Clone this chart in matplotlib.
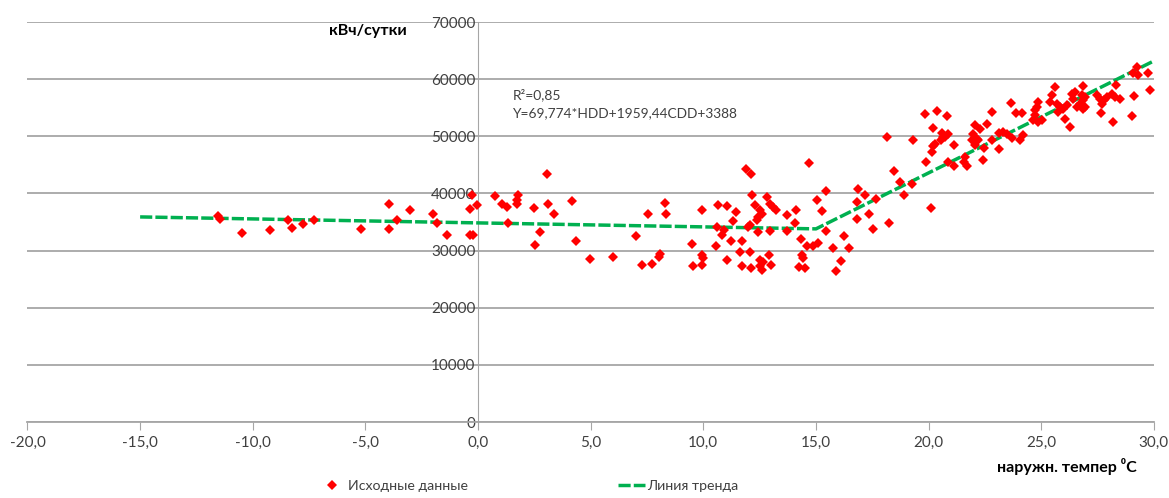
import matplotlib.pyplot as plt
from matplotlib.lines import Line2D
from matplotlib.ticker import FuncFormatter, MultipleLocator

# outside temperature, degC
temp_obs = [
    -11.53, -11.45, -10.49, -9.24, -8.42, -8.27, -7.76, -7.28, -5.21, -3.95,
    -3.95, -3.61, -3.02, -2.02, -1.84, -1.39, -0.36, -0.24, -0.28, -0.36,
    -0.06, 0.75, 1.05, 1.30, 1.34, 1.71, 1.74, 1.78, 2.48, 2.53,
    2.75, 3.07, 3.12, 3.37, 4.15, 4.34, 4.97, 6.00, 7.00, 7.26,
    7.56, 7.73, 8.03, 8.07, 8.30, 8.33, 9.48, 9.55, 9.92, 9.92,
    9.97, 9.92, 10.58, 10.62, 10.66, 10.81, 10.93, 11.03, 11.03, 11.22,
    11.33, 11.45, 11.62, 11.70, 11.73, 11.88, 12.00, 12.07, 12.07, 12.10,
    12.11, 12.14, 12.29, 12.37, 12.41, 12.44, 12.51, 12.51, 12.51, 12.59,
    12.59, 12.66, 12.81, 12.93, 12.96, 12.96, 12.99, 13.10, 13.22, 13.70,
    13.72, 14.07, 14.11, 14.26, 14.32, 14.36, 14.43, 14.51, 14.58, 14.70,
    14.88, 15.03, 15.10, 15.25, 15.43, 15.43, 15.74, 15.89, 16.10, 16.24,
    16.48, 16.81, 16.81, 16.86, 17.19, 17.36, 17.53, 17.66, 18.14, 18.25,
    18.46, 18.73, 18.92, 19.28, 19.29, 19.84, 19.88, 20.11, 20.13, 20.18,
    20.20, 20.28, 20.36, 20.54, 20.58, 20.62, 20.73, 20.80, 20.84, 20.88,
    21.12, 21.14, 21.58, 21.61, 21.69, 21.91, 21.98, 22.06, 22.06, 22.13,
    22.20, 22.28, 22.40, 22.45, 22.60, 22.80, 22.80, 23.13, 23.13, 23.31,
    23.49, 23.64, 23.68, 23.87, 24.05, 24.13, 24.20, 24.64, 24.72, 24.72,
    24.79, 24.87, 24.87, 25.02, 25.38, 25.46, 25.60, 25.68, 25.75, 25.83,
    25.97, 26.05, 26.12, 26.27, 26.35, 26.42, 26.49, 26.57, 26.71, 26.79,
    26.83, 26.86, 26.86, 26.94, 26.94, 27.46, 27.60, 27.64, 27.68, 27.78,
    27.90, 28.12, 28.19, 28.27, 28.31, 28.49, 29.01, 29.08, 29.11, 29.23,
    29.30, 29.74, 29.82,
]
# daily consumption, kWh
load_obs = [
    36010, 35440, 32990, 33570, 35310, 33970, 34620, 35310, 33740, 38110,
    33860, 35430, 37180, 36480, 34740, 32690, 32690, 32810, 39690, 37240,
    37940, 39560, 38110, 37640, 34840, 38110, 38810, 39690, 37460, 30940,
    33270, 43360, 38230, 36480, 38640, 31640, 28610, 28850, 32520, 27450,
    36480, 27620, 28900, 29320, 38410, 36480, 31120, 27270, 27450, 29200,
    28620, 37060, 30770, 34140, 38060, 32690, 33570, 37760, 28320, 31640,
    35140, 36770, 29770, 31640, 27270, 44230, 34140, 34440, 29770, 43360,
    26870, 39690, 37940, 35430, 33270, 35890, 37060, 28320, 27270, 36480,
    26570, 28020, 39390, 29200, 38230, 33390, 27450, 37640, 37060, 36190,
    33390, 34740, 37060, 27150, 31940, 29200, 28620, 26870, 30770, 45330,
    30770, 38810, 31350, 36940, 40380, 33390, 30470, 26400, 28090, 32520,
    30370, 38510, 35490, 40730, 39740, 36360, 33740, 39110, 49880, 34840,
    43930, 42010, 39690, 41730, 49300, 53850, 45510, 37460, 47260, 51520,
    48250, 48720, 54420, 49420, 50580, 49880, 49880, 53550, 45510, 50470,
    48430, 44760, 45510, 46380, 44760, 49300, 50470, 51920, 48430, 49600,
    49300, 51340, 45920, 47960, 52100, 54250, 49420, 47850, 50580, 50750,
    50350, 55890, 49770, 54140, 49300, 54070, 50170, 52800, 53670, 54550,
    55120, 56000, 52500, 52800, 56000, 57170, 58620, 55710, 54250, 55120,
    54840, 53090, 55420, 51630, 57460, 56590, 57750, 55120, 55710, 57170,
    54840, 56290, 58740, 56870, 55120, 57170, 56590, 54070, 55710, 56290,
    56870, 57460, 52500, 56870, 58910, 56590, 53500, 61070, 56990, 62120,
    60790, 61070, 58160,
]

# fitted piecewise trend
trend_temp = [-15.0, 15.0, 30.0]
trend_load = [35890, 33800, 63190]

x_ticks = [-20, -15, -10, -5, 0, 5, 10, 15, 20, 25, 30]

plt.rcParams["font.family"] = ["Lato", "DejaVu Sans"]
text_color = "#404040"
grid_color = "#a6a6a6"

fig = plt.figure(figsize=(11.69, 4.98), dpi=100)
ax = fig.add_axes([0.0235, 0.1526, 0.9636, 0.8032])

ax.plot(trend_temp, trend_load, color="#00b050", linewidth=2.5,
        linestyle=(0, (3.5, 0.9)), zorder=3)
ax.plot(temp_obs, load_obs, linestyle="none", marker="D", markersize=5.2,
        color="#ff0000", markeredgewidth=0, zorder=4)

ax.set_xlim(-20, 30)
ax.set_ylim(0, 70000)
ax.yaxis.set_major_locator(MultipleLocator(10000))
ax.set_xticks(x_ticks)
ax.xaxis.set_major_formatter(FuncFormatter(lambda v, p: f"{v:.1f}".replace(".", ",")))
ax.yaxis.set_major_formatter(FuncFormatter(lambda v, p: f"{v:.0f}"))

ax.grid(axis="y", color=grid_color, linewidth=1.3)
ax.set_axisbelow(True)
for side in ("top", "right"):
    ax.spines[side].set_visible(False)
ax.spines["left"].set_position(("data", 0))
ax.spines["left"].set_color(grid_color)
ax.spines["bottom"].set_color(grid_color)
ax.spines["bottom"].set_linewidth(1.3)
ax.tick_params(axis="x", direction="out", length=6, color=grid_color,
               labelsize=11, labelcolor=text_color, pad=4)
ax.tick_params(axis="y", length=0, labelsize=11, labelcolor=text_color, pad=2)

ax.text(-4.9, 68400, "кВч/сутки", fontsize=11.5, fontweight="bold",
        ha="center", va="center", color="#000000")
ax.text(1.55, 57200, "R²=0,85", fontsize=10, ha="left", va="center",
        color=text_color)
ax.text(1.55, 54000, "Y=69,774*HDD+1959,44CDD+3388", fontsize=9.9,
        ha="left", va="center", color=text_color)
fig.text(1137 / 1169, 1 - 466 / 498, "наружн. темпер ⁰C", fontsize=11.5,
         fontweight="bold", ha="right", va="center")

handles = [
    Line2D([], [], linestyle="none", marker="D", markersize=5.2,
           color="#ff0000", markeredgewidth=0),
    Line2D([], [], color="#00b050", linewidth=2.5, linestyle=(0, (3.5, 0.9))),
]
fig.legend(handles, ["Исходные данные", "Линия тренда"], ncol=2,
           loc="center", bbox_to_anchor=(0.452, 0.025), frameon=False,
           fontsize=10.2, handlelength=1.9, handletextpad=0.15,
           columnspacing=10.6, labelcolor=text_color)

fig.savefig("out.png", dpi=100)
